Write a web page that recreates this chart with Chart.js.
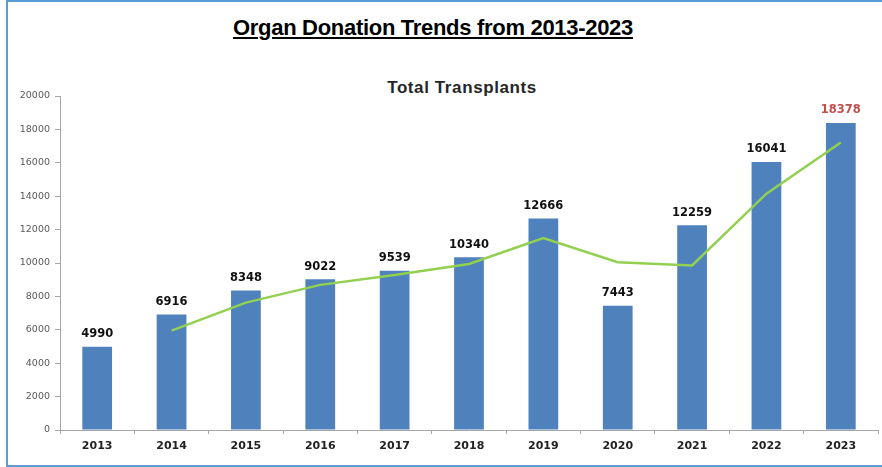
<!DOCTYPE html>
<html>
<head>
<meta charset="utf-8">
<script src="https://cdn.jsdelivr.net/npm/chart.js@4"></script>
<style>
  body { margin: 0; background: #fff; font-family: "Liberation Sans", Arial, sans-serif; }
  #frame { position: absolute; left: 6px; top: 0; width: 900px; height: 463px;
           border-left: 2px solid #5B9BD5; border-top: 2px solid #5B9BD5; border-bottom: 3px solid #5B9BD5; }
  #title { position: absolute; left: 0; width: 866px; top: 15px; text-align: center;
           font-size: 22px; font-weight: bold; text-decoration: underline; color: #000; letter-spacing: -0.3px; }
  #subtitle { position: absolute; left: 0; width: 924px; top: 78px; text-align: center;
              font-size: 17px; font-weight: bold; color: #262626; letter-spacing: 0.6px; }
  canvas { position: absolute; left: 0; top: 0; }
</style>
</head>
<body>
<div id="frame"></div>
<div id="title">Organ Donation Trends from 2013-2023</div>
<div id="subtitle">Total Transplants</div>
<canvas id="chart" width="882" height="467"></canvas>
<script>
// values
const years = ['2013', '2014', '2015', '2016', '2017', '2018', '2019', '2020', '2021', '2022', '2023'];
const transplants = [4990, 6916, 8348, 9022, 9539, 10340, 12666, 7443, 12259, 16041, 18378];
// green trend line (moving average look)
const trend = [null, 5950, 7630, 8690, 9280, 9940, 11500, 10050, 9850, 14150, 17210];
const yTicks = [0, 2000, 4000, 6000, 8000, 10000, 12000, 14000, 16000, 18000, 20000];

const barLabels = {
  id: 'barLabels',
  afterDatasetsDraw(chart) {
    const ctx = chart.ctx;
    const meta = chart.getDatasetMeta(1);
    ctx.save();
    ctx.font = 'bold 11.5px "DejaVu Sans", Verdana, sans-serif';
    ctx.textAlign = 'center';
    ctx.textBaseline = 'bottom';
    meta.data.forEach((bar, i) => {
      ctx.fillStyle = i === transplants.length - 1 ? '#C0504D' : '#111';
      ctx.fillText(transplants[i], bar.x, bar.y - 7);
    });
    ctx.restore();
  }
};

const ctx = document.getElementById('chart').getContext('2d');
new Chart(ctx, {
  data: {
    labels: years,
    datasets: [{
      type: 'line',
      label: 'Trend',
      data: trend,
      borderColor: '#92D050',
      borderWidth: 2.5,
      pointRadius: 0,
      tension: 0,
      spanGaps: false
    }, {
      type: 'bar',
      label: 'Total Transplants',
      data: transplants,
      backgroundColor: '#4F81BD',
      barPercentage: 0.8,
      categoryPercentage: 0.5
    }]
  },
  options: {
    responsive: false,
    animation: false,
    layout: { padding: { top: 96, left: 0, right: 4, bottom: 0 } },
    plugins: { legend: { display: false }, tooltip: { enabled: false } },
    scales: {
      x: {
        offset: true,
        grid: { display: true, drawOnChartArea: false, offset: true, tickLength: 4, color: '#A6A6A6' },
        border: { color: '#A6A6A6' },
        ticks: { color: '#222', font: { family: '"DejaVu Sans", Verdana, sans-serif', size: 11, weight: 'bold' }, padding: 6 },
        afterFit(scale) { scale.height = 37; }
      },
      y: {
        min: 0, max: 20000,
        afterBuildTicks(scale) { scale.ticks = yTicks.map(v => ({ value: v })); },
        grid: { display: true, drawOnChartArea: false, tickLength: 5, color: '#A6A6A6' },
        border: { color: '#A6A6A6' },
        ticks: { color: '#595959', font: { family: '"DejaVu Sans", Verdana, sans-serif', size: 9.5 }, padding: 5,
                 callback: v => String(v) },
        afterFit(scale) { scale.width = 60; }
      }
    }
  },
  plugins: [barLabels]
});
</script>
</body>
</html>
